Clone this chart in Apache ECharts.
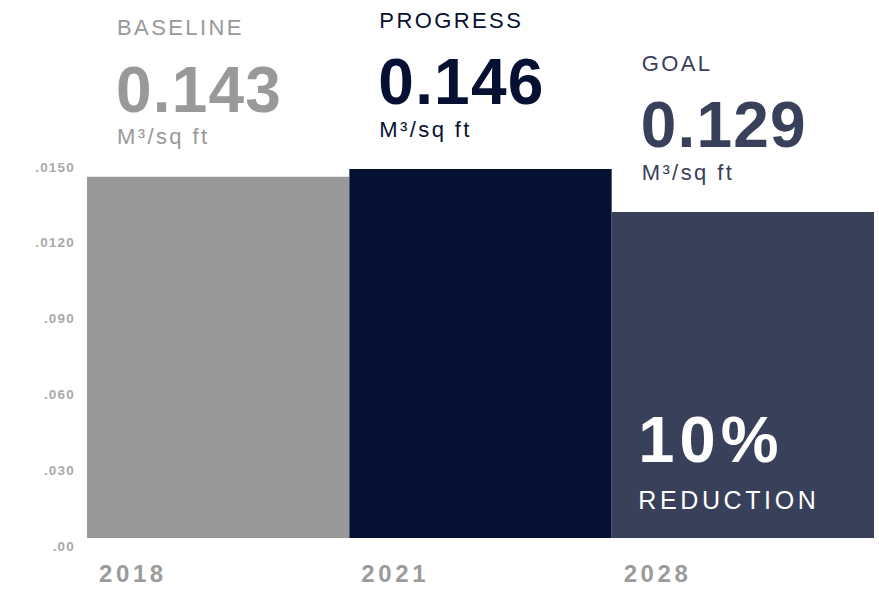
<!DOCTYPE html>
<html>
<head>
<meta charset="utf-8">
<script src="https://cdn.jsdelivr.net/npm/echarts@6/dist/echarts.min.js"></script>
<style>
  html, body { margin: 0; padding: 0; background: #ffffff; }
  #chart { width: 879px; height: 589px; }
  text[style*="lsT"], text[font-family*="lsT"] { letter-spacing: 2.4px; }
  text[style*="lsN"], text[font-family*="lsN"] { letter-spacing: 1.2px; }
  text[style*="lsP"], text[font-family*="lsP"] { letter-spacing: 5px; }
  text[style*="lsU"], text[font-family*="lsU"] { letter-spacing: 2.4px; }
  text[style*="lsY"], text[font-family*="lsY"] { letter-spacing: 1.2px; }
  text[style*="lsX"], text[font-family*="lsX"] { letter-spacing: 3.6px; }
  text[style*="lsR"], text[font-family*="lsR"] { letter-spacing: 3.6px; }
</style>
</head>
<body>
<div id="chart"></div>
<script>
const categories = ['2018', '2021', '2028'];
const values = [0.143, 0.146, 0.129];
const titles = ['BASELINE', 'PROGRESS', 'GOAL'];
const yTickLabels = ['.00', '.030', '.060', '.090', '.0120', '.0150'];
const unitLabel = 'M³/sq ft';
const reductionPct = '10%';
const reductionText = 'REDUCTION';

const barColors = ['#999999', '#061033', '#394059'];
const FONT = 'Liberation Sans';

const chart = echarts.init(document.getElementById('chart'), null, { renderer: 'svg' });

const barData = values.map((v, i) => ({
  value: v,
  itemStyle: { color: barColors[i] },
  label: {
    show: true,
    position: [30, -25],
    align: 'left',
    verticalAlign: 'bottom',
    formatter: '{t|' + titles[i] + '}\n{n|' + v.toFixed(3) + '}\n{u|' + unitLabel + '}',
    rich: {
      t: { color: barColors[i], fontSize: 22, lineHeight: 60, fontFamily: FONT + ', lsT' },
      n: { color: barColors[i], fontSize: 64, fontWeight: 'bold', lineHeight: 64, fontFamily: FONT + ', lsN', padding: [0, 0, 0, -1] },
      u: { color: barColors[i], fontSize: 22, lineHeight: 30, fontFamily: FONT + ', lsU' }
    }
  }
}));

const option = {
  animation: false,
  grid: { left: 87, right: 5, top: 159, bottom: 51, containLabel: false },
  xAxis: [
    {
      type: 'category',
      data: categories,
      axisLine: { show: false },
      axisTick: { show: false },
      axisLabel: { show: false }
    },
    {
      type: 'category',
      boundaryGap: false,
      data: categories.concat(['']),
      position: 'bottom',
      axisLine: { show: false },
      axisTick: { show: false },
      axisLabel: {
        align: 'left',
        margin: 23,
        padding: [0, 0, 0, 12],
        color: '#9b9b9b',
        fontSize: 24,
        fontWeight: 'bold',
        fontFamily: FONT + ', lsX'
      }
    }
  ],
  yAxis: {
    type: 'value',
    min: 0,
    max: 0.15,
    interval: 0.03,
    axisLine: { show: false },
    axisTick: { show: false },
    splitLine: { show: false },
    axisLabel: {
      margin: 12,
      verticalAlign: 'top',
      lineHeight: 16,
      color: '#a9a9a9',
      fontSize: 13.5,
      fontWeight: 'bold',
      fontFamily: FONT + ', lsY',
      formatter: function (v) { return yTickLabels[Math.round(v / 0.03)]; }
    }
  },
  series: [
    {
      type: 'bar',
      xAxisIndex: 0,
      barCategoryGap: '0%',
      data: barData,
      markPoint: {
        symbol: 'rect',
        symbolSize: 1,
        itemStyle: { color: 'rgba(0,0,0,0)' },
        data: [{
          coord: [categories[2], 0],
          label: {
            show: true,
            position: [-104, -20],
            align: 'left',
            verticalAlign: 'bottom',
            formatter: '{p|' + reductionPct + '}\n{r|' + reductionText + '}',
            rich: {
              p: { color: '#ffffff', fontSize: 65, fontWeight: 'bold', lineHeight: 84, fontFamily: FONT + ', lsP' },
              r: { color: '#ffffff', fontSize: 25, lineHeight: 36, fontFamily: FONT + ', lsR' }
            }
          }
        }]
      }
    }
  ]
};

chart.setOption(option);
</script>
</body>
</html>
